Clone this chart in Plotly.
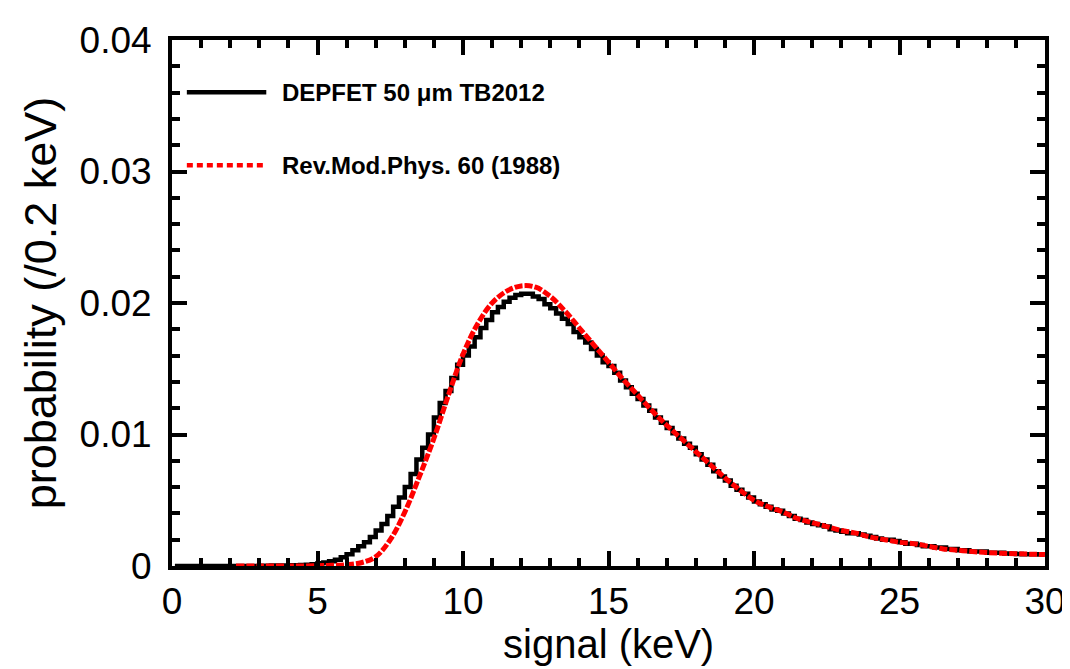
import plotly.graph_objects as go

# Measured histogram (DEPFET 50 um TB2012), 0.2 keV bins, bin centres 0.1 ... 29.9
bin_width = 0.2
black_vals = [
    0, 0, 0, 0, 0,
    0, 0, 0, 0, 0,
    0, 0, 0, 0, 0,
    0.00002, 0.00002, 0.00003, 0.00003, 0.00004,
    0.00005, 0.00006, 0.00008, 0.0001, 0.00013,
    0.0002, 0.00027, 0.00036, 0.00048, 0.00066,
    0.0009, 0.0012, 0.0015, 0.0018, 0.0022,
    0.0027, 0.0032, 0.0038, 0.0045, 0.0052,
    0.0060, 0.0070, 0.0081, 0.0090, 0.0100,
    0.0113, 0.0124, 0.0133, 0.0143, 0.0153,
    0.0160, 0.0167, 0.0174, 0.0181, 0.0187,
    0.0193, 0.0197, 0.0201, 0.0204, 0.0206,
    0.0207, 0.0207, 0.0205, 0.0203, 0.0199,
    0.0196, 0.0192, 0.0188, 0.0184, 0.0178,
    0.0174, 0.0170, 0.0165, 0.0160, 0.0155,
    0.0152, 0.0147, 0.0141, 0.0136, 0.0131,
    0.0127, 0.0122, 0.0118, 0.0113, 0.0109,
    0.0105, 0.0101, 0.0097, 0.0093, 0.0090,
    0.0085, 0.0081, 0.0077, 0.0072, 0.0068,
    0.0065, 0.0061, 0.0058, 0.0055, 0.0052,
    0.0049, 0.0047, 0.0045, 0.0043, 0.0042,
    0.0040, 0.0038, 0.0036, 0.0035, 0.0033,
    0.0032, 0.0031, 0.0030, 0.0028, 0.0027,
    0.0026, 0.0025, 0.0025, 0.0024, 0.0023,
    0.0022, 0.0021, 0.0020, 0.0020, 0.0019,
    0.0018, 0.0017, 0.0017, 0.0016, 0.0015,
    0.0015, 0.0014, 0.0014, 0.0013, 0.0013,
    0.0012, 0.0012, 0.0011, 0.0011, 0.0011,
    0.0010, 0.0010, 0.0010, 0.00096, 0.00094,
    0.00092, 0.0009, 0.0009, 0.00089, 0.00088,
]
black_x = [round(bin_width * (i + 0.5), 2) for i in range(len(black_vals))]

# Theory curve (Rev.Mod.Phys. 60 (1988))
red_x = [2.2, 3, 4, 5, 5.5, 6, 6.5, 7, 7.5, 8, 8.5, 9, 9.5, 10, 10.5, 11, 11.5, 12,
         12.5, 13, 13.5, 14, 14.5, 15, 15.5, 16, 16.5, 17, 17.5, 18, 18.5, 19, 19.5,
         20, 20.5, 21, 21.5, 22, 22.5, 23, 23.5, 24, 24.5, 25, 25.5, 26, 26.5, 27,
         27.5, 28, 28.5, 29, 29.5, 30]
red_vals = [0, 0, 0, 0.00002, 0.00005, 0.0001, 0.00025, 0.0007, 0.002, 0.0041, 0.0068,
            0.0097, 0.0130, 0.0161, 0.0184, 0.0200, 0.0209, 0.0213, 0.0212, 0.0205,
            0.0194, 0.0181, 0.0168, 0.0155, 0.0142, 0.0130, 0.0118, 0.0107, 0.0097,
            0.0087, 0.0077, 0.0067, 0.0058, 0.0050, 0.0045, 0.0041, 0.0036, 0.0033,
            0.0030, 0.0027, 0.0025, 0.0022, 0.0020, 0.0018, 0.0017, 0.0015, 0.0013,
            0.0012, 0.0011, 0.00102, 0.00097, 0.00093, 0.0009, 0.00087]

legend_labels = ["DEPFET 50 \u03bcm TB2012", "Rev.Mod.Phys. 60 (1988)"]
x_title = "signal (keV)"
y_title = "probability (/0.2 keV)"
x_ticks = [0, 5, 10, 15, 20, 25, 30]
y_ticks = [0, 0.01, 0.02, 0.03, 0.04]
y_ticklabels = ["0", "0.01", "0.02", "0.03", "0.04"]

FONT = "Liberation Sans, Arial, sans-serif"

fig = go.Figure()
fig.add_trace(go.Scatter(x=black_x, y=black_vals, mode="lines", line_shape="hvh",
                         line=dict(color="black", width=4.5), name=legend_labels[0],
                         showlegend=False))
fig.add_trace(go.Scatter(x=red_x, y=red_vals, mode="lines", line_shape="spline",
                         line=dict(color="#ff0000", width=5, dash="8px,2px"),
                         name=legend_labels[1], showlegend=False))

# manual legend (long sample lines as in the reference)
legend_rows = [
    (0.9006, "black", "solid", legend_labels[0]),
    (0.7617, "#ff0000", "6px,4px", legend_labels[1]),
]
for yp, col, dash, label in legend_rows:
    fig.add_shape(type="line", xref="paper", yref="paper", x0=0.017, x1=0.108,
                  y0=yp, y1=yp, line=dict(color=col, width=4.5, dash=dash))
    fig.add_annotation(xref="paper", yref="paper", x=0.124, y=yp, xanchor="left",
                       yanchor="middle", text="<b>" + label + "</b>", showarrow=False,
                       font=dict(family=FONT, size=24, color="black"))

# x-axis title placed as an annotation so it sits like the reference (near page bottom)
fig.add_annotation(xref="paper", yref="paper", x=0.5, y=-0.149, xanchor="center",
                   yanchor="middle", text=x_title, showarrow=False,
                   font=dict(family=FONT, size=40, color="black"))

axis_common = dict(showline=True, linecolor="black", linewidth=4, mirror="ticks",
                   ticks="inside", tickcolor="black", tickwidth=3.5, ticklen=15,
                   showgrid=False, zeroline=False,
                   tickfont=dict(family=FONT, size=37, color="black"))

fig.update_xaxes(range=[0, 30], tickvals=x_ticks,
                 minor=dict(dtick=1, ticks="inside", ticklen=8, tickwidth=3.5,
                            tickcolor="black", showgrid=False),
                 **axis_common)
fig.update_yaxes(range=[0, 0.04], tickvals=y_ticks, ticktext=y_ticklabels,
                 ticklabelstandoff=9,
                 minor=dict(dtick=0.002, ticks="inside", ticklen=8, tickwidth=3.5,
                            tickcolor="black", showgrid=False),
                 title=dict(text=y_title, standoff=10,
                            font=dict(family=FONT, size=45, color="black")),
                 **axis_common)

# page body has an 8px margin: shift plot area so it lands at x 172-1046, y 33-566
fig.update_layout(width=1070, height=669, plot_bgcolor="white", paper_bgcolor="white",
                  margin=dict(l=164, r=32, t=25, b=111))

fig.write_html("out.html")
